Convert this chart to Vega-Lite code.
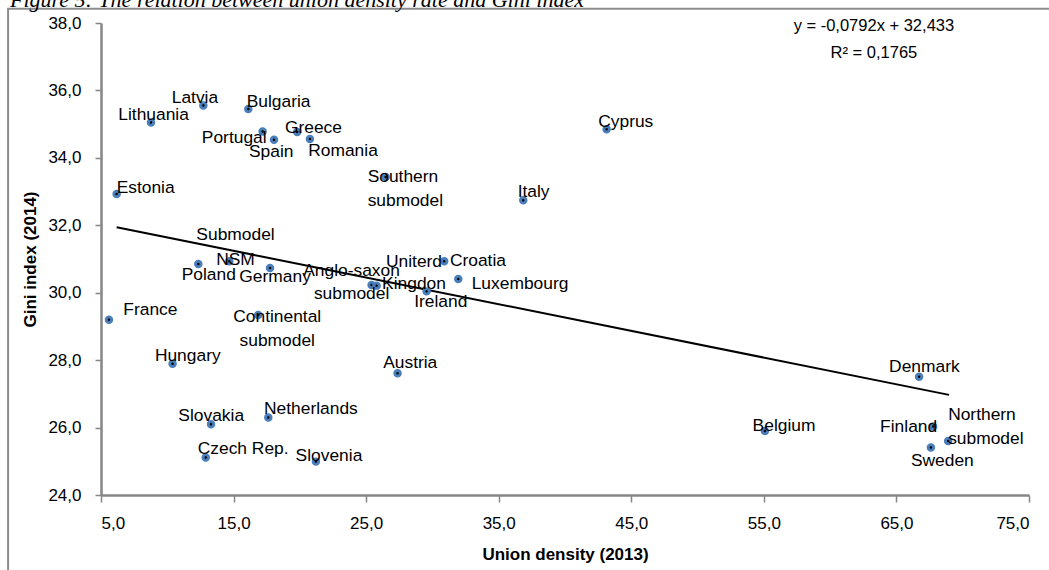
{
  "$schema": "https://vega.github.io/schema/vega-lite/v6.json",
  "autosize": "none",
  "width": 928,
  "height": 472,
  "padding": {"left": 101, "top": 23, "right": 20, "bottom": 75},
  "background": "white",
  "title": {
    "text": "Figure 5: The relation between union density rate and Gini index",
    "anchor": "start",
    "frame": "group",
    "dx": -91,
    "offset": -24,
    "baseline": "alphabetic",
    "font": "Liberation Serif",
    "fontStyle": "italic",
    "fontWeight": "normal",
    "fontSize": 22,
    "color": "black"
  },
  "config": {
    "view": {"stroke": null},
    "text": {"font": "Liberation Sans", "fontSize": 17.4, "baseline": "alphabetic", "lineBreak": "\n", "lineHeight": 23.5, "color": "black"},
    "axis": {
      "grid": false,
      "domainColor": "#868686",
      "domainWidth": 2.5,
      "tickColor": "#868686",
      "tickWidth": 1.5,
      "labelFont": "Liberation Sans",
      "labelFontSize": 17,
      "labelColor": "black",
      "titleFont": "Liberation Sans",
      "titleFontSize": 17,
      "titleFontWeight": "bold",
      "titleColor": "black"
    }
  },
  "datasets": {
    "pts": [
      {"c": "Latvia", "label": "Latvia", "x": 12.72, "y": 35.55},
      {"c": "Bulgaria", "label": "Bulgaria", "x": 16.11, "y": 35.45},
      {"c": "Lithuania", "label": "Lithuania", "x": 8.77, "y": 35.05},
      {"c": "Portugal", "label": "Portugal", "x": 17.19, "y": 34.78},
      {"c": "Spain", "label": "Spain", "x": 18.05, "y": 34.54},
      {"c": "Greece", "label": "Greece", "x": 19.8, "y": 34.77},
      {"c": "Romania", "label": "Romania", "x": 20.76, "y": 34.56},
      {"c": "Southern submodel", "label": "Southern\nsubmodel", "x": 26.47, "y": 33.43},
      {"c": "Estonia", "label": "Estonia", "x": 6.18, "y": 32.93},
      {"c": "Cyprus", "label": "Cyprus", "x": 43.14, "y": 34.85},
      {"c": "Italy", "label": "Italy", "x": 36.85, "y": 32.74},
      {"c": "Croatia", "label": "Croatia", "x": 30.89, "y": 30.93},
      {"c": "Luxembourg", "label": "Luxembourg", "x": 31.95, "y": 30.41},
      {"c": "Anglo-saxon submodel", "label": "Anglo-saxon\nsubmodel", "x": 25.41, "y": 30.23},
      {"c": "United Kingdom", "label": "Uniterd\nKingdon", "x": 25.79, "y": 30.21},
      {"c": "Ireland", "label": "Ireland", "x": 29.56, "y": 30.04},
      {"c": "Poland", "label": "Poland", "x": 12.34, "y": 30.85},
      {"c": "NSM submodel", "label": "Submodel\nNSM", "x": 14.68, "y": 30.93},
      {"c": "Germany", "label": "Germany", "x": 17.75, "y": 30.73},
      {"c": "Continental submodel", "label": "Continental\nsubmodel", "x": 16.86, "y": 29.34},
      {"c": "France", "label": "France", "x": 5.6, "y": 29.2},
      {"c": "Hungary", "label": "Hungary", "x": 10.4, "y": 27.89},
      {"c": "Austria", "label": "Austria", "x": 27.37, "y": 27.61},
      {"c": "Slovakia", "label": "Slovakia", "x": 13.3, "y": 26.1},
      {"c": "Netherlands", "label": "Netherlands", "x": 17.62, "y": 26.3},
      {"c": "Czech Rep.", "label": "Czech Rep.", "x": 12.9, "y": 25.11},
      {"c": "Slovenia", "label": "Slovenia", "x": 21.21, "y": 24.99},
      {"c": "Denmark", "label": "Denmark", "x": 66.71, "y": 27.51},
      {"c": "Belgium", "label": "Belgium", "x": 55.08, "y": 25.9},
      {"c": "Finland", "label": "Finland", "x": 67.77, "y": 26.03},
      {"c": "Northern submodel", "label": "Northern\nsubmodel", "x": 68.9, "y": 25.6},
      {"c": "Sweden", "label": "Sweden", "x": 67.6, "y": 25.41}
    ],
    "trend": [
      {"x": 6.18, "y": 31.94},
      {"x": 68.97, "y": 26.97}
    ],
    "eq": [
      {"x": 63.3, "y": 37.75, "t": "y = -0,0792x + 32,433\nR² = 0,1765"}
    ],
    "frame": [
      {"x": -2.01, "y": 21.4},
      {"x": -2.01, "y": 38.42},
      {"x": 76.6, "y": 38.42}
    ]
  },
  "encoding": {
    "x": {
      "field": "x", "type": "quantitative",
      "scale": {"domain": [5, 75], "nice": false, "zero": false},
      "axis": {
        "title": "Union density (2013)",
        "values": [5, 15, 25, 35, 45, 55, 65, 75],
        "labelExpr": "replace(format(datum.value, '.1f'), '.', ',')",
        "tickSize": 7,
        "labelPadding": 13,
        "titlePadding": 15
      }
    },
    "y": {
      "field": "y", "type": "quantitative",
      "scale": {"domain": [24, 38], "nice": false, "zero": false},
      "axis": {
        "title": "Gini index (2014)",
        "values": [24, 26, 28, 30, 32, 34, 36, 38],
        "labelExpr": "replace(format(datum.value, '.1f'), '.', ',')",
        "tickSize": 6,
        "labelPadding": 14,
        "titlePadding": 8
      }
    }
  },
  "layer": [
    {"data": {"name": "frame"}, "mark": {"type": "line", "color": "#8c8c8c", "strokeWidth": 2, "clip": false}, "encoding": {"order": {"field": "x", "type": "quantitative"}}},
    {"data": {"name": "trend"}, "mark": {"type": "line", "color": "black", "strokeWidth": 2}},
    {"data": {"name": "pts"}, "mark": {"type": "point", "shape": "circle", "filled": true, "fill": "#000000", "stroke": "#4a7ebb", "strokeWidth": 3, "size": 30, "opacity": 1}},
    {"data": {"name": "eq"}, "mark": {"type": "text", "align": "center", "fontSize": 16.5, "lineHeight": 26.5}, "encoding": {"text": {"field": "t"}}},
    {
      "data": {"name": "pts"},
      "encoding": {"text": {"field": "label"}},
      "layer": [
        {"transform": [{"filter": "datum.c == 'Latvia'"}], "mark": {"type": "text", "align": "left", "dx": -31.6, "dy": -2.4}},
        {"transform": [{"filter": "datum.c == 'Lithuania'"}], "mark": {"type": "text", "align": "left", "dx": -32.7, "dy": -2}},
        {"transform": [{"filter": "datum.c == 'Bulgaria'"}], "mark": {"type": "text", "align": "left", "dx": -1.6, "dy": -1.6}},
        {"transform": [{"filter": "datum.c == 'Portugal'"}], "mark": {"type": "text", "align": "right", "dx": 4, "dy": 11.6}},
        {"transform": [{"filter": "datum.c == 'Spain'"}], "mark": {"type": "text", "align": "left", "dx": -25, "dy": 17.3}},
        {"transform": [{"filter": "datum.c == 'Greece'"}], "mark": {"type": "text", "align": "left", "dx": -12.3, "dy": 1}},
        {"transform": [{"filter": "datum.c == 'Romania'"}], "mark": {"type": "text", "align": "left", "dx": -1.7, "dy": 17.4}},
        {"transform": [{"filter": "datum.c == 'Southern submodel'"}], "mark": {"type": "text", "align": "left", "dx": -18, "dy": 5}},
        {"transform": [{"filter": "datum.c == 'Estonia'"}], "mark": {"type": "text", "align": "left", "dx": 0, "dy": -1.3}},
        {"transform": [{"filter": "datum.c == 'Cyprus'"}], "mark": {"type": "text", "align": "left", "dx": -8.4, "dy": -2}},
        {"transform": [{"filter": "datum.c == 'Italy'"}], "mark": {"type": "text", "align": "left", "dx": -5.6, "dy": -3.4}},
        {"transform": [{"filter": "datum.c == 'Croatia'"}], "mark": {"type": "text", "align": "left", "dx": 5.7, "dy": 5}},
        {"transform": [{"filter": "datum.c == 'Luxembourg'"}], "mark": {"type": "text", "align": "left", "dx": 13.4, "dy": 10}},
        {"transform": [{"filter": "datum.c == 'Anglo-saxon submodel'"}], "mark": {"type": "text", "align": "center", "dx": -20, "dy": -9}},
        {"transform": [{"filter": "datum.c == 'United Kingdom'"}], "mark": {"type": "text", "align": "center", "dx": 37.4, "dy": -19, "lineHeight": 22}},
        {"transform": [{"filter": "datum.c == 'Ireland'"}], "mark": {"type": "text", "align": "left", "dx": -12.4, "dy": 15.6}},
        {"transform": [{"filter": "datum.c == 'Poland'"}], "mark": {"type": "text", "align": "left", "dx": -16.6, "dy": 16.4}},
        {"transform": [{"filter": "datum.c == 'NSM submodel'"}], "mark": {"type": "text", "align": "center", "dx": 6.2, "dy": -21, "lineHeight": 25}},
        {"transform": [{"filter": "datum.c == 'Germany'"}], "mark": {"type": "text", "align": "left", "dx": -30.7, "dy": 13.4}},
        {"transform": [{"filter": "datum.c == 'Continental submodel'"}], "mark": {"type": "text", "align": "center", "dx": 19, "dy": 7.3}},
        {"transform": [{"filter": "datum.c == 'France'"}], "mark": {"type": "text", "align": "left", "dx": 14.4, "dy": -5}},
        {"transform": [{"filter": "datum.c == 'Hungary'"}], "mark": {"type": "text", "align": "left", "dx": -17.7, "dy": -3.3}},
        {"transform": [{"filter": "datum.c == 'Austria'"}], "mark": {"type": "text", "align": "left", "dx": -14.4, "dy": -5}},
        {"transform": [{"filter": "datum.c == 'Slovakia'"}], "mark": {"type": "text", "align": "left", "dx": -32.7, "dy": -3.6}},
        {"transform": [{"filter": "datum.c == 'Netherlands'"}], "mark": {"type": "text", "align": "left", "dx": -4.3, "dy": -3.7}},
        {"transform": [{"filter": "datum.c == 'Czech Rep.'"}], "mark": {"type": "text", "align": "left", "dx": -8, "dy": -3.7}},
        {"transform": [{"filter": "datum.c == 'Slovenia'"}], "mark": {"type": "text", "align": "left", "dx": -20.3, "dy": -1}},
        {"transform": [{"filter": "datum.c == 'Denmark'"}], "mark": {"type": "text", "align": "left", "dx": -30, "dy": -4.4}},
        {"transform": [{"filter": "datum.c == 'Belgium'"}], "mark": {"type": "text", "align": "left", "dx": -12.3, "dy": -0.3}},
        {"transform": [{"filter": "datum.c == 'Finland'"}], "mark": {"type": "text", "align": "right", "dx": 4, "dy": 5.6}},
        {"transform": [{"filter": "datum.c == 'Northern submodel'"}], "mark": {"type": "text", "align": "left", "dx": 0, "dy": -21}},
        {"transform": [{"filter": "datum.c == 'Sweden'"}], "mark": {"type": "text", "align": "left", "dx": -20, "dy": 19}}
      ]
    }
  ]
}
